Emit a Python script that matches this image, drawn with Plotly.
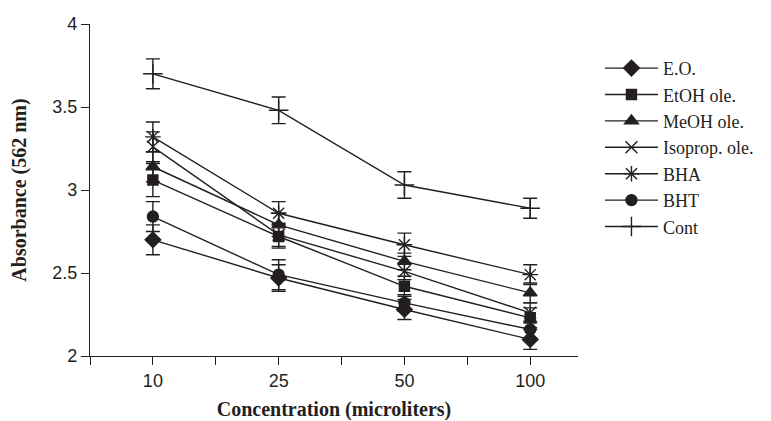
import plotly.graph_objects as go

categories = ["10", "25", "50", "100"]
series_names = ["E.O.", "EtOH ole.", "MeOH ole.", "Isoprop. ole.", "BHA", "BHT", "Cont"]
eo = [2.70, 2.47, 2.28, 2.10]
etoh = [3.06, 2.72, 2.42, 2.23]
meoh = [3.14, 2.79, 2.57, 2.38]
isoprop = [3.26, 2.73, 2.51, 2.26]
bha = [3.32, 2.86, 2.67, 2.49]
bht = [2.84, 2.49, 2.32, 2.16]
cont = [3.70, 3.48, 3.03, 2.89]

eo_err = [0.09, 0.08, 0.06, 0.06]
etoh_err = [0.10, 0.07, 0.06, 0.06]
meoh_err = [0.09, 0.07, 0.05, 0.06]
isoprop_err = [0.09, 0.07, 0.05, 0.06]
bha_err = [0.09, 0.07, 0.07, 0.06]
bht_err = [0.09, 0.09, 0.05, 0.05]
cont_err = [0.09, 0.08, 0.08, 0.06]

y_ticks = [2, 2.5, 3, 3.5, 4]

INK = "#231f20"
values = [eo, etoh, meoh, isoprop, bha, bht, cont]
errors = [eo_err, etoh_err, meoh_err, isoprop_err, bha_err, bht_err, cont_err]
symbols = ["diamond", "square", "triangle-up", "x-thin", "asterisk", "circle", "cross-thin"]
sizes = [12, 10, 12, 12, 13, 11, 14]

x_idx = list(range(len(categories)))

fig = go.Figure()
for name, v, e, sym, sz in zip(series_names, values, errors, symbols, sizes):
    fig.add_trace(go.Scatter(
        x=x_idx, y=v, name=name, mode="lines+markers",
        line=dict(color=INK, width=1.4),
        marker=dict(symbol=sym, size=sz, color=INK, line=dict(color=INK, width=1.4)),
        error_y=dict(type="data", array=e, visible=True, color=INK, thickness=1.4, width=7),
    ))

half_ticks = [i * 0.5 - 0.5 for i in range(2 * len(categories))]
half_text = []
for t in half_ticks:
    if abs(t - round(t)) < 1e-9 and 0 <= round(t) < len(categories):
        half_text.append(categories[int(round(t))])
    else:
        half_text.append("")

fig.update_layout(
    width=771, height=421,
    margin=dict(l=90, r=193, t=24, b=65),
    plot_bgcolor="white", paper_bgcolor="white",
    showlegend=True,
    legend=dict(
        x=1.045, y=0.922, xanchor="left", yanchor="top",
        font=dict(family="Liberation Serif", size=18, color=INK),
        itemwidth=53, tracegroupgap=0, bgcolor="rgba(0,0,0,0)",
    ),
    xaxis=dict(
        range=[-0.5, 3.38], tickmode="array", tickvals=half_ticks, ticktext=half_text,
        ticks="outside", ticklen=8, tickcolor=INK, tickwidth=1.2,
        showline=True, linecolor=INK, linewidth=1.2, showgrid=False, zeroline=False,
        automargin=False,
        tickfont=dict(family="Liberation Sans", size=18, color=INK),
        title=dict(text="<b>Concentration (microliters)</b>",
                   font=dict(family="Liberation Serif", size=20, color=INK), standoff=14),
    ),
    yaxis=dict(
        range=[2, 4], tickvals=y_ticks, ticktext=[f"{t:g}" for t in y_ticks],
        ticks="outside", ticklen=8, tickcolor=INK, tickwidth=1.2,
        showline=True, linecolor=INK, linewidth=1.2, showgrid=False, zeroline=False,
        automargin=False,
        tickfont=dict(family="Liberation Sans", size=18, color=INK),
        title=dict(text="<b>Absorbance (562 nm)</b>",
                   font=dict(family="Liberation Serif", size=20, color=INK), standoff=20),
    ),
)

fig.write_html("out.html")
